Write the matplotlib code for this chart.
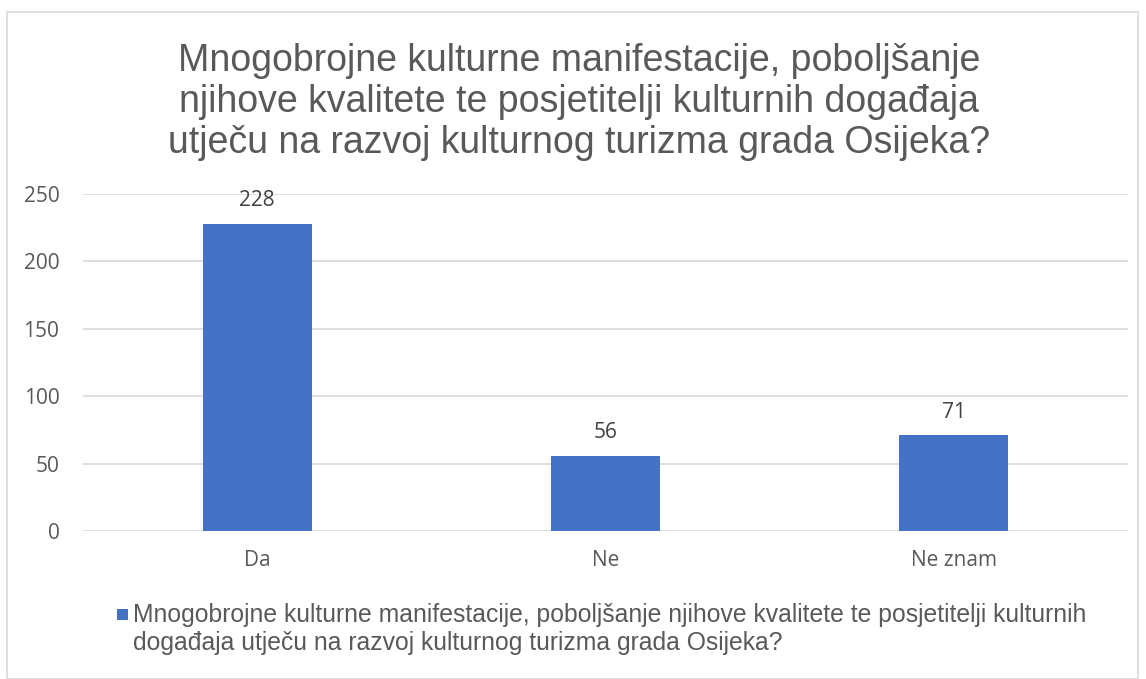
import matplotlib.pyplot as plt
from matplotlib.patches import Rectangle

categories = ['Da', 'Ne', 'Ne znam']
values = [228, 56, 71]
title = ('Mnogobrojne kulturne manifestacije, poboljšanje\n'
         'njihove kvalitete te posjetitelji kulturnih događaja\n'
         'utječu na razvoj kulturnog turizma grada Osijeka?')
legend_text = ('Mnogobrojne kulturne manifestacije, poboljšanje njihove kvalitete te posjetitelji kulturnih\n'
               'događaja utječu na razvoj kulturnog turizma grada Osijeka?')

bar_color = '#4472C4'
text_color = '#595959'
W, H = 1146, 679

fig = plt.figure(figsize=(W / 100, H / 100), dpi=100)
fig.patches.append(Rectangle((7 / W, 0), 1131 / W, 1 - 12 / H, transform=fig.transFigure,
                             fill=False, edgecolor='#D9D9D9', linewidth=1.2))

ax = fig.add_axes([83 / W, 1 - 531 / H, 1045 / W, 337 / H])
x = range(len(categories))
bars = ax.bar(x, values, width=0.313, color=bar_color)
ax.set_xlim(-0.5, 2.5)
ax.set_ylim(0, 250)
ax.set_yticks(range(0, 251, 50))
ax.set_xticks(list(x))
ax.set_xticklabels(categories)
ax.grid(axis='y', color='#D9D9D9', linewidth=1.2)
ax.set_axisbelow(True)
for s in ax.spines.values():
    s.set_visible(False)
ax.tick_params(length=0, labelsize=15, labelcolor=text_color)
ax.tick_params(axis='y', pad=17)
ax.tick_params(axis='x', pad=14)
for lab in ax.get_xticklabels() + ax.get_yticklabels():
    lab.set_fontfamily('Open Sans')

for b, v in zip(bars, values):
    ax.annotate(str(v), (b.get_x() + b.get_width() / 2, v), xytext=(0, 9),
                textcoords='offset points', ha='center', va='bottom',
                fontsize=15, color='#404040', family='Open Sans')

fig.text(579 / W, 1 - 102 / H, title, ha='center', va='center', fontsize=27,
         color=text_color, family='Liberation Sans', linespacing=1.18)

fig.patches.append(Rectangle((117 / W, 1 - 620 / H), 11 / W, 11 / H, transform=fig.transFigure,
                             facecolor=bar_color, edgecolor='none'))
fig.text(133 / W, 1 - 629 / H, legend_text, ha='left', va='center', fontsize=17.8,
         color=text_color, family='Liberation Sans', linespacing=1.2)

fig.savefig('out.png', dpi=100, facecolor='white')
